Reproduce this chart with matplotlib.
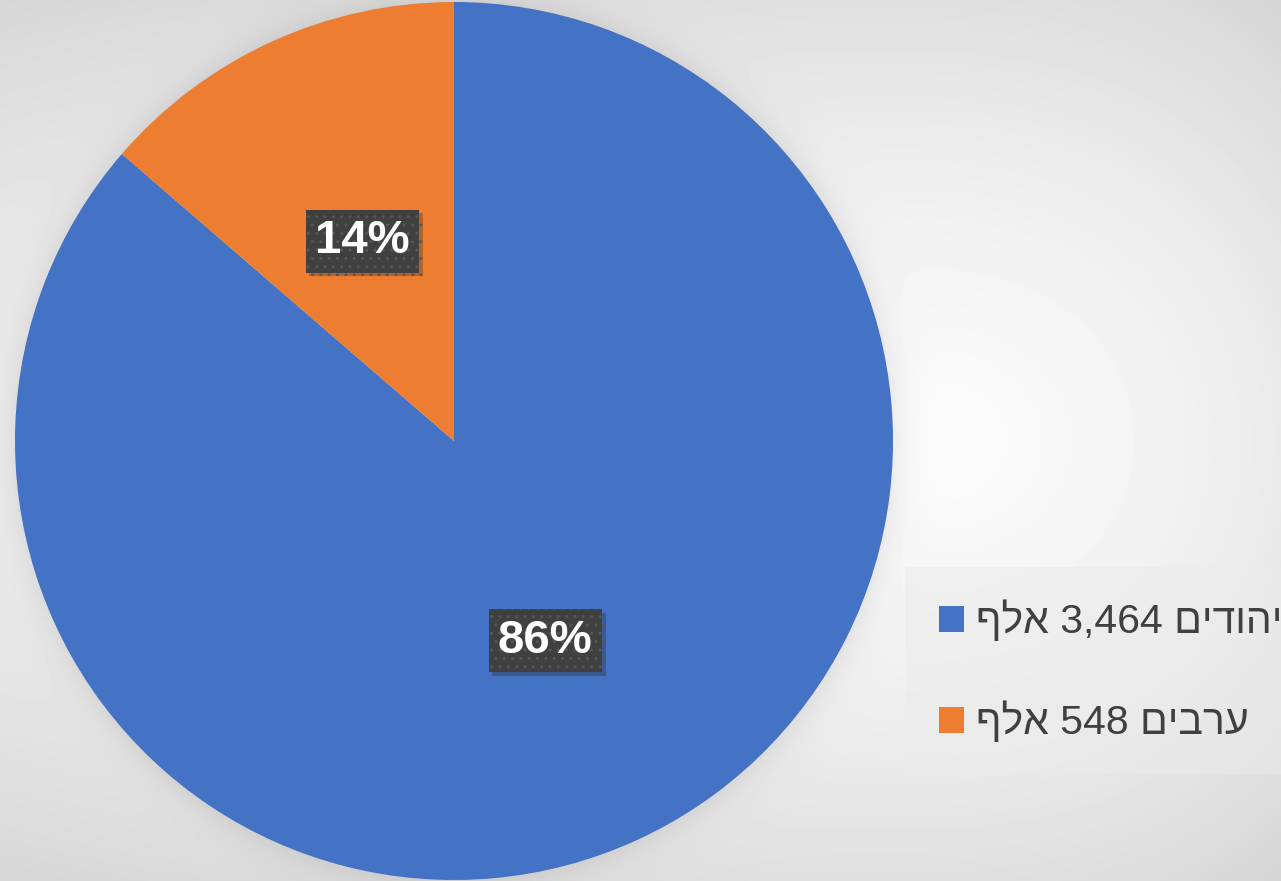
import numpy as np
import matplotlib
matplotlib.use("Agg")
import matplotlib.pyplot as plt
import matplotlib.patheffects as pe
from matplotlib.patches import Patch, Rectangle

# data
labels = ["ףלא 3,464 םידוהי", "ףלא 548 םיברע"]   # visual (right-to-left) order
values = [3464, 548]
colors = ["#4472C4", "#ED7D31"]

W, H = 1281, 881
fig = plt.figure(figsize=(W / 100, H / 100), dpi=100)

# background: soft radial gradient plus a faint halo round the pie
bg = fig.add_axes([0, 0, 1, 1])
yy, xx = np.mgrid[0:H, 0:W]
cx, cy = 880, 440
sx = 1 + 2.0 / (1 + np.exp((xx - cx) / 200.0))
d = np.sqrt(((xx - cx) / sx) ** 2 + (yy - cy) ** 2)
v = 251 - 46 * np.clip(d / 620, 0, 1.3) ** 1.5
pcx, pcy, R = 454, 441, 439
dp = np.sqrt((xx - pcx) ** 2 + (yy - pcy) ** 2)
v = v - 16 * np.exp(-np.clip(dp - R, 0, None) / 14)
img = np.clip(v, 0, 255) / 255
bg.imshow(img, cmap="gray", vmin=0, vmax=1, extent=[0, W, H, 0], aspect="auto")
bg.add_patch(Rectangle((905, 567), W - 905, 207, facecolor="#ebebeb",
                       alpha=0.5, edgecolor="none"))
bg.set_xlim(0, W)
bg.set_ylim(H, 0)
bg.axis("off")

# pie
ax = fig.add_axes([(pcx - R) / W, (H - pcy - R) / H, 2 * R / W, 2 * R / H])
wedges, texts, autotexts = ax.pie(values, colors=colors, startangle=90,
                                  counterclock=False, autopct="%.0f%%",
                                  pctdistance=0.5, radius=1,
                                  wedgeprops=dict(linewidth=0))
ax.set_xlim(-1, 1)
ax.set_ylim(-1, 1)
ax.set_aspect("equal")
ax.axis("off")

for t in autotexts:
    t.set_color("white")
    t.set_fontsize(34)
    t.set_fontweight("bold")
    t.set_family(["Liberation Sans", "DejaVu Sans"])
    t.set_bbox(dict(boxstyle="square,pad=0.2", facecolor="#404040",
                    edgecolor="#565656", linewidth=0, hatch=".."))
    t.get_bbox_patch().set_path_effects(
        [pe.SimplePatchShadow(offset=(2.5, -2.5), alpha=0.25), pe.Normal()])

# legend
handles = [Patch(facecolor=c, edgecolor="none") for c in colors]
leg = fig.legend(handles, labels, loc="center left",
                 bbox_to_anchor=(939 / W, 1 - 671 / H), frameon=False,
                 prop={"family": ["Liberation Sans", "DejaVu Sans"], "size": 29.5},
                 handlelength=0.6, handleheight=0.6, handletextpad=0.3,
                 labelspacing=1.45, borderpad=0, borderaxespad=0)
for t in leg.get_texts():
    t.set_color("#404040")

plt.savefig("out.png", dpi=100)
